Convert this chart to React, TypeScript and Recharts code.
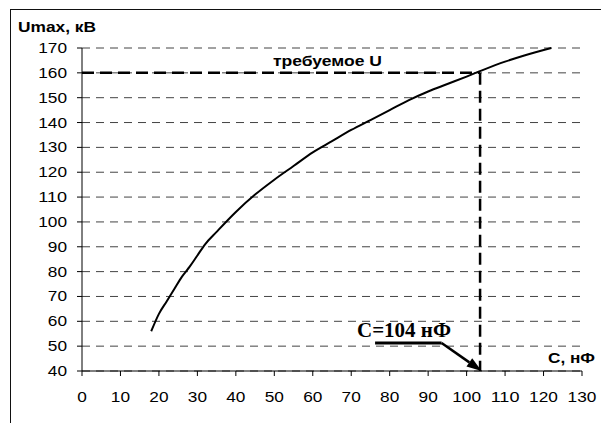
import { LineChart, Line, XAxis, YAxis, CartesianGrid, ReferenceLine } from 'recharts'

// values
const capacitance = [18, 20, 22, 24, 26, 28, 30, 32, 35, 40, 45, 50, 55, 60, 65, 70, 75, 80, 85, 90, 95, 100, 104, 110, 115, 122]
const voltage = [56, 63, 68, 73, 78, 82, 86.5, 91, 96, 104, 111, 117, 122.5, 128, 132.5, 137, 141, 145, 149, 152.5, 155.5, 158.5, 161, 164.5, 167, 170]

const xTicks = [0, 10, 20, 30, 40, 50, 60, 70, 80, 90, 100, 110, 120, 130]
const yTicks = [40, 50, 60, 70, 80, 90, 100, 110, 120, 130, 140, 150, 160, 170]

const requiredU = 160
const requiredC = 103.5
const requiredLabel = 'C=104 нФ'
const arrowPath = [
  { x: 76.2, y: 51.3 },
  { x: 93.5, y: 51.3 },
  { x: 103.9, y: 40 },
]

const data = capacitance.map((c, i) => ({ c, u: voltage[i] }))

const FONT = '"Liberation Sans", Arial, sans-serif'

const XTick = ({ x, y, payload }: any) => {
  const s = String(payload.value)
  return (
    <text x={x} y={y + 24} textAnchor="middle" fontSize={14} fontFamily={FONT} fill="#000"
      textLength={s.length * 9.6} lengthAdjust="spacingAndGlyphs">
      {s}
    </text>
  )
}

const YTick = ({ x, y, payload }: any) => {
  const s = String(payload.value)
  return (
    <text x={x - 8} y={y + 5} textAnchor="end" fontSize={14} fontFamily={FONT} fill="#000"
      textLength={s.length * 9.6} lengthAdjust="spacingAndGlyphs">
      {s}
    </text>
  )
}

const ArrowShape = (props: any) => {
  const { x1, y1, x2, y2 } = props
  const ang = Math.atan2(y2 - y1, x2 - x1)
  const len = 15
  const hw = 5
  const bx = x2 - len * Math.cos(ang)
  const by = y2 - len * Math.sin(ang)
  const px = -Math.sin(ang) * hw
  const py = Math.cos(ang) * hw
  return (
    <g>
      <line x1={x1} y1={y1} x2={bx} y2={by} stroke="#000" strokeWidth={2.5} />
      <polygon points={`${x2},${y2} ${bx + px},${by + py} ${bx - px},${by - py}`} fill="#000" />
    </g>
  )
}

export default function App() {
  return (
    <div style={{ position: 'absolute', left: 0, top: 0, width: 601, height: 423, overflow: 'hidden', background: '#fff' }}>
      <div style={{ position: 'absolute', left: 10, top: 9, width: 700, height: 500, border: '1.5px solid #111' }} />
      <div style={{ position: 'absolute', left: 0, top: 0 }}>
        <LineChart width={601} height={423} data={data} margin={{ top: 48, right: 19, bottom: 22, left: 0 }}>
          <CartesianGrid vertical={false} stroke="#444" strokeDasharray="8 6" />
          <XAxis dataKey="c" type="number" domain={[0, 130]} ticks={xTicks} height={30}
            axisLine={{ stroke: '#000' }} tickLine={{ stroke: '#000' }} tickSize={5} tick={<XTick />} interval={0} />
          <YAxis type="number" domain={[40, 170]} ticks={yTicks} width={82}
            axisLine={{ stroke: '#000' }} tickLine={{ stroke: '#000' }} tickSize={5} tick={<YTick />} interval={0} />
          <ReferenceLine segment={[{ x: 0, y: requiredU }, { x: requiredC, y: requiredU }]}
            stroke="#000" strokeWidth={2.5} strokeDasharray="12 6" />
          <ReferenceLine segment={[{ x: requiredC, y: requiredU }, { x: requiredC, y: 40 }]}
            stroke="#000" strokeWidth={2.5} strokeDasharray="12 6" />
          <Line dataKey="u" stroke="#000" strokeWidth={2} dot={false} type="monotone" isAnimationActive={false} />
          <ReferenceLine segment={[arrowPath[0], arrowPath[1]]} stroke="#000" strokeWidth={3} />
          <ReferenceLine segment={[arrowPath[1], arrowPath[2]]} shape={<ArrowShape />} />
          <text x={18} y={32} fontSize={14} fontWeight="bold" fontFamily={FONT} textLength={78} lengthAdjust="spacingAndGlyphs">
            Umax, кВ
          </text>
          <text x={548} y={363} fontSize={14} fontWeight="bold" fontFamily={FONT} textLength={47} lengthAdjust="spacingAndGlyphs">
            С, нФ
          </text>
          <text x={273} y={66} fontSize={14} fontWeight="bold" fontFamily={FONT} textLength={109} lengthAdjust="spacingAndGlyphs">
            требуемое U
          </text>
          <text x={357} y={337} fontSize={20} fontWeight="bold" fontFamily='"Liberation Serif", "Times New Roman", serif'
            textLength={94} lengthAdjust="spacingAndGlyphs">
            {requiredLabel}
          </text>
        </LineChart>
      </div>
    </div>
  )
}
